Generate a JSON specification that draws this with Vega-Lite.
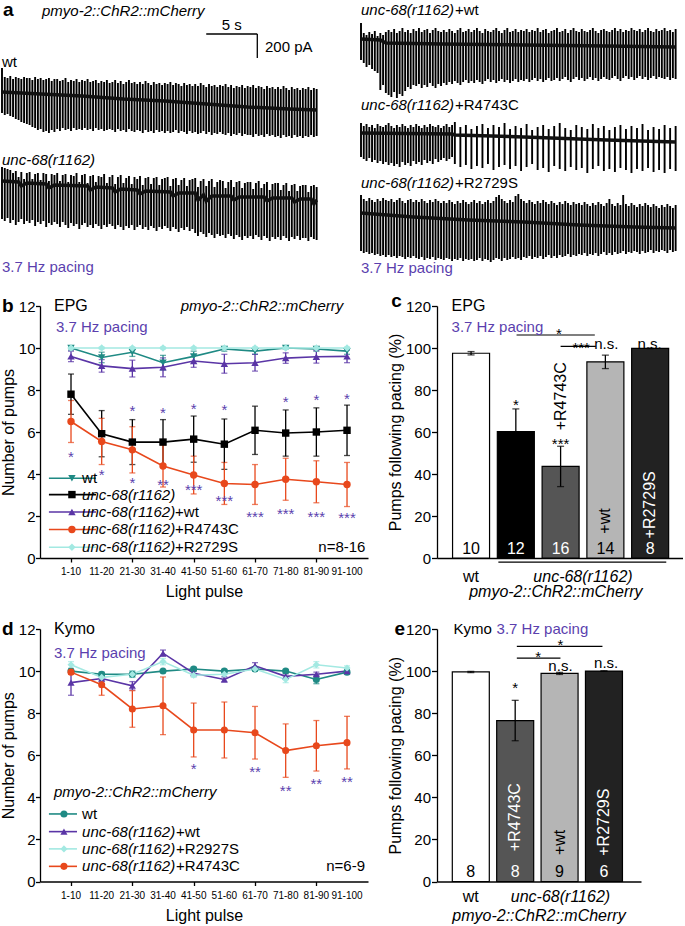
{
"$schema":"https://vega.github.io/schema/vega-lite/v6.json",
"padding":{"left":-5,"top":0,"right":0,"bottom":0},
"background":"white",
"config":{"font":"Liberation Sans","view":{"stroke":null},
"axis":{"grid":false,"domainColor":"#000","tickColor":"#000","labelColor":"#000","titleColor":"#000","domainWidth":1.3,"tickWidth":1.3,"labelFontSize":15,"titleFontSize":16,"titleFontWeight":"normal","labelFont":"Liberation Sans","titleFont":"Liberation Sans","labelOverlap":false,"labelBound":false,"labelFlush":false},
"text":{"color":"#000","baseline":"middle","fontSize":15},"rule":{"color":"#000"}},
"columns":2,"bounds":"flush","align":"each","spacing":{"row":71,"column":69},
"resolve":{"scale":{"color":"independent","shape":"independent","fill":"independent"}},
"datasets":{
"L":[{"n":[1,2,3,4,5,6,7,8,9,10,11,12,13,14,15,16,17,18,19,20,21,22,23,24,25,26,27,28,29,30,31,32,33,34,35,36,37,38,39,40,41,42,43,44,45,46,47,48,49,50,51,52,53,54,55,56,57,58,59,60,61,62,63,64,65,66,67,68,69,70,71,72,73,74,75,76,77,78,79,80,81,82,83,84,85,86,87,88,89,90,91,92,93,94,95,96,97,98,99,100,101,102,103,104,105,106,107,108,109,110,111,112,113,114,115],
"a":[217,208,207,209,206,208,207,206,208,207,207,205,208,206,207,205,206,207,204,206,206,204,205,207,203,205,204,206,203,205,204,206,203,204,205,202,204,203,205,202,203,205,202,204,201,203,205,202,203,201,203,201,204,202,200,203,201,202,200,202,201,203,200,202,201,199,202,200,201,199,201,199,202,200,198,201,199,200,198,200,199,201,198,200,197,199,198,200,197,199,198,200,197,199,198,196,199,197,198,196,198,196,199,197,195,198,196,197,195,197,196,198,195,197,196],
"b":[172,170,171,169,168,166,165,163,162,161,160,158,157,155,156,153,154,152,155,153,156,154,157,155,156,154,157,155,156,155,157,155,156,154,157,155,156,154,155,156,155,153,156,154,155,153,156,154,153,155,154,152,155,153,154,152,155,153,154,152,154,152,153,155,152,154,153,151,154,152,153,151,152,154,151,153,150,152,151,153,151,150,152,149,151,150,152,149,151,150,150,148,151,149,150,148,151,149,150,148,149,147,150,148,149,147,150,148,149,147,149,148,150,148,149],
"c":[118,117,116,115,112,114,108,113,106,112,113,106,111,112,105,112,111,104,111,110,112,104,110,111,103,110,109,112,103,110,111,102,109,110,103,109,108,111,102,108,110,101,108,110,102,107,109,101,108,106,109,100,107,108,101,107,108,100,106,107,108,99,106,107,100,105,107,99,105,106,107,98,104,106,99,104,106,98,103,105,104,97,103,105,98,103,104,97,102,103,103,96,102,104,97,101,103,95,101,102,102,95,100,102,94,100,101,94,99,100,100,93,99,100,98],
"d":[66,64,67,62,65,60,63,66,61,64,62,65,59,63,61,64,58,62,60,63,61,58,63,60,57,62,59,61,56,60,62,58,60,57,61,59,56,60,58,61,59,56,60,58,55,59,57,60,55,58,60,56,58,55,59,57,54,58,56,59,57,54,58,56,53,57,55,58,54,56,52,49,53,51,48,52,50,47,51,49,50,47,51,49,46,50,48,45,49,47,49,46,50,48,45,49,47,44,48,46,48,45,49,47,44,48,46,49,45,47,47,44,48,46,45]}],
"R":[{"n":[1,2,3,4,5,6,7,8,9,10,11,12,13,14,15,16,17,18,19,20,21,22,23,24,25,26,27,28,29,30,31,32,33,34,35,36,37,38,39,40,41,42,43,44,45,46,47,48,49,50,51,52,53,54,55,56,57,58,59,60,61,62,63,64,65,66,67,68,69,70,71,72,73,74,75,76,77,78,79,80,81,82,83,84,85,86,87,88,89,90,91,92,93,94,95,96,97,98,99,100,101,102,103,104,105,106,107,108,109,110,111,112,113,114,115],
"a":[262,252,250,253,251,254,249,252,250,253,255,253,256,252,254,257,253,255,252,256,254,257,253,255,256,252,255,257,254,253,255,253,256,254,252,255,257,253,254,256,253,255,257,254,252,256,254,253,255,257,254,252,255,257,253,254,256,253,255,254,256,253,255,254,257,253,255,256,252,254,255,257,253,254,256,252,255,257,254,253,256,254,253,255,257,254,252,255,256,254,253,255,257,254,256,253,255,254,257,255,254,256,253,255,257,254,253,256,254,255,257,254,255,253,256],
"b":[225,222,218,220,216,214,212,195,200,192,190,188,193,187,191,189,194,198,196,200,199,201,197,200,198,202,199,197,201,199,202,200,203,201,204,202,200,203,205,202,204,202,205,203,201,204,206,203,205,202,204,206,203,205,202,204,206,203,205,204,206,203,205,207,204,206,203,205,207,204,205,207,204,206,208,205,203,206,208,205,207,204,206,208,205,207,204,206,208,206,205,207,209,206,204,207,209,206,208,205,207,209,206,208,205,207,209,206,208,207,206,208,205,207,206],
"c":[90,86,84,87,85,83,86,84,87,85,84,86,83,85,87,84,82,85,86,83,85,83,86,84,82,85,83,86,84,82,84,82,85,83,81,84,82,85,83,81,83,85,82,84,81,83,85,82,84,88,90,86,84,82,85,83,89,91,86,84,82,85,83,81,84,82,85,83,81,84,82,80,83,81,84,82,80,83,81,82,80,83,81,79,82,80,83,81,79,82,86,81,79,82,80,90,81,79,82,80,78,81,79,82,80,78,81,79,77,80,78,81,79,77,80],
"d":[34,32,33,31,32,30,31,29,30,28,30,28,29,27,29,28,26,28,27,29,27,26,28,25,27,26,28,25,27,26,25,27,26,24,26,25,27,24,26,25,26,24,25,27,24,26,25,23,25,27,26,24,27,25,26,28,26,27,25,28,27,29,26,28,27,29,26,28,30,27,29,27,30,28,29,31,28,30,29,31,30,32,29,31,30,32,29,31,33,30,32,30,33,31,32,34,31,33,32,34,33,31,34,32,33,35,32,34,33,35,34,32,35,33,34]}],
"R4":[{"n":[1,2,3,4,5,6,7,8,9,10,11,12,13,14,15,16,17,18,19,20,21,22,23,24,25,26,27,28,29,30,31,32,33,34,35,37,39,41,43,45,47,49,51,53,55,57,59,61,63,65,67,69,71,73,75,77,79,81,83,85,87,89,91,93,95,97,99,101,103,105,107,109,111,113,115],
"a":[162,159,161,158,160,157,161,159,158,160,162,159,157,160,158,161,159,157,160,158,161,159,157,160,158,161,159,158,160,157,159,161,158,160,163,158,160,156,159,161,157,160,158,162,156,159,157,161,155,158,160,156,159,162,157,155,160,158,156,161,157,159,155,158,160,156,159,157,161,155,158,156,160,157,159],
"b":[128,126,124,127,123,125,122,124,121,123,120,122,119,121,118,123,120,122,119,124,121,123,120,125,122,124,121,126,123,125,127,124,126,128,121,118,120,116,119,117,121,115,118,120,116,119,114,118,121,115,117,113,119,116,114,118,115,117,112,116,119,114,116,113,117,115,112,116,114,117,113,115,112,116,114]}],
"BL":[{"tr":"wt","n":1,"v":193},{"tr":"wt","n":15,"v":191},{"tr":"wt","n":30,"v":189},{"tr":"wt","n":45,"v":186},{"tr":"wt","n":60,"v":184},{"tr":"wt","n":75,"v":181},{"tr":"wt","n":90,"v":178},{"tr":"wt","n":105,"v":176},{"tr":"wt","n":115,"v":175},
{"tr":"u","n":1,"v":104},{"tr":"u","n":7,"v":103},{"tr":"u","n":8,"v":99},{"tr":"u","n":10,"v":102},{"tr":"u","n":17,"v":101},{"tr":"u","n":18,"v":97},{"tr":"u","n":20,"v":100},{"tr":"u","n":32,"v":99},{"tr":"u","n":33,"v":95},{"tr":"u","n":35,"v":98},{"tr":"u","n":41,"v":97},{"tr":"u","n":42,"v":93},{"tr":"u","n":44,"v":96},{"tr":"u","n":50,"v":95},{"tr":"u","n":51,"v":91},{"tr":"u","n":53,"v":94},{"tr":"u","n":62,"v":93},{"tr":"u","n":63,"v":89},{"tr":"u","n":65,"v":92},{"tr":"u","n":71,"v":92},{"tr":"u","n":72,"v":85},{"tr":"u","n":74,"v":90},{"tr":"u","n":75,"v":84},{"tr":"u","n":77,"v":89},{"tr":"u","n":84,"v":89},{"tr":"u","n":85,"v":85},{"tr":"u","n":87,"v":88},{"tr":"u","n":96,"v":88},{"tr":"u","n":97,"v":84},{"tr":"u","n":99,"v":87},{"tr":"u","n":106,"v":87},{"tr":"u","n":107,"v":83},{"tr":"u","n":109,"v":86},{"tr":"u","n":113,"v":86},{"tr":"u","n":114,"v":81},{"tr":"u","n":115,"v":85}],
"BR":[{"tr":"w","n":1,"v":246},{"tr":"w","n":8,"v":245},{"tr":"w","n":10,"v":242},{"tr":"w","n":30,"v":241},{"tr":"w","n":60,"v":240},{"tr":"w","n":90,"v":239},{"tr":"w","n":115,"v":238},
{"tr":"s","n":1,"v":72},{"tr":"s","n":20,"v":68},{"tr":"s","n":40,"v":65},{"tr":"s","n":60,"v":63},{"tr":"s","n":80,"v":60},{"tr":"s","n":100,"v":58},{"tr":"s","n":115,"v":57},
{"tr":"r","n":1,"v":152},{"tr":"r","n":34,"v":151},{"tr":"r","n":35,"v":150},{"tr":"r","n":60,"v":148},{"tr":"r","n":90,"v":145},{"tr":"r","n":115,"v":143}],
"xl":[{"x":1,"t":"1-10"},{"x":2,"t":"11-20"},{"x":3,"t":"21-30"},{"x":4,"t":"31-40"},{"x":5,"t":"41-50"},{"x":6,"t":"51-60"},{"x":7,"t":"61-70"},{"x":8,"t":"71-80"},{"x":9,"t":"81-90"},{"x":10,"t":"91-100"}],
"bS":[{"g":"wt","x":1,"m":10,"e":0.1},{"g":"wt","x":2,"m":9.55,"e":0.25},{"g":"wt","x":3,"m":9.8,"e":0.2},{"g":"wt","x":4,"m":9.3,"e":0.35},{"g":"wt","x":5,"m":9.6,"e":0.25},{"g":"wt","x":6,"m":9.95,"e":0.1},{"g":"wt","x":7,"m":9.85,"e":0.15},{"g":"wt","x":8,"m":10,"e":0.05},{"g":"wt","x":9,"m":9.95,"e":0.1},{"g":"wt","x":10,"m":9.85,"e":0.15},
{"g":"unc","x":1,"m":7.8,"e":0.96},{"g":"unc","x":2,"m":5.92,"e":1.1},{"g":"unc","x":3,"m":5.52,"e":1.07},{"g":"unc","x":4,"m":5.52,"e":1.07},{"g":"unc","x":5,"m":5.66,"e":1.1},{"g":"unc","x":6,"m":5.42,"e":1.2},{"g":"unc","x":7,"m":6.08,"e":1.15},{"g":"unc","x":8,"m":5.95,"e":1.1},{"g":"unc","x":9,"m":6,"e":1.15},{"g":"unc","x":10,"m":6.08,"e":1.2},
{"g":"+wt","x":1,"m":9.6,"e":0.25},{"g":"+wt","x":2,"m":9.15,"e":0.3},{"g":"+wt","x":3,"m":9.02,"e":0.4},{"g":"+wt","x":4,"m":9.08,"e":0.45},{"g":"+wt","x":5,"m":9.38,"e":0.3},{"g":"+wt","x":6,"m":9.25,"e":0.45},{"g":"+wt","x":7,"m":9.3,"e":0.4},{"g":"+wt","x":8,"m":9.52,"e":0.25},{"g":"+wt","x":9,"m":9.58,"e":0.3},{"g":"+wt","x":10,"m":9.6,"e":0.3},
{"g":"R4743C","x":1,"m":6.5,"e":1},{"g":"R4743C","x":2,"m":5.55,"e":1.1},{"g":"R4743C","x":3,"m":5.15,"e":1.1},{"g":"R4743C","x":4,"m":4.38,"e":1},{"g":"R4743C","x":5,"m":3.95,"e":0.9},{"g":"R4743C","x":6,"m":3.55,"e":1},{"g":"R4743C","x":7,"m":3.5,"e":0.95},{"g":"R4743C","x":8,"m":3.75,"e":1},{"g":"R4743C","x":9,"m":3.63,"e":1},{"g":"R4743C","x":10,"m":3.5,"e":1.05},
{"g":"R2729S","x":1,"m":10,"e":0.05},{"g":"R2729S","x":2,"m":10,"e":0.05},{"g":"R2729S","x":3,"m":10,"e":0.05},{"g":"R2729S","x":4,"m":10,"e":0.05},{"g":"R2729S","x":5,"m":10,"e":0.05},{"g":"R2729S","x":6,"m":10,"e":0.05},{"g":"R2729S","x":7,"m":10,"e":0.05},{"g":"R2729S","x":8,"m":10,"e":0.05},{"g":"R2729S","x":9,"m":10,"e":0.05},{"g":"R2729S","x":10,"m":10,"e":0.05}],
"dS":[{"g":"wt","x":1,"m":10,"e":0.1},{"g":"wt","x":2,"m":9.85,"e":0.1},{"g":"wt","x":3,"m":9.85,"e":0.15},{"g":"wt","x":4,"m":10,"e":0.05},{"g":"wt","x":5,"m":10.1,"e":0.08},{"g":"wt","x":6,"m":10,"e":0.08},{"g":"wt","x":7,"m":10.1,"e":0.1},{"g":"wt","x":8,"m":10,"e":0.08},{"g":"wt","x":9,"m":9.6,"e":0.2},{"g":"wt","x":10,"m":9.95,"e":0.1},
{"g":"+wt","x":1,"m":9.45,"e":0.6},{"g":"+wt","x":2,"m":9.65,"e":0.15},{"g":"+wt","x":3,"m":9.3,"e":0.2},{"g":"+wt","x":4,"m":10.85,"e":0.15},{"g":"+wt","x":5,"m":9.9,"e":0.1},{"g":"+wt","x":6,"m":9.6,"e":0.12},{"g":"+wt","x":7,"m":10.25,"e":0.15},{"g":"+wt","x":8,"m":9.75,"e":0.12},{"g":"+wt","x":9,"m":9.85,"e":0.1},{"g":"+wt","x":10,"m":10,"e":0.05},
{"g":"R2927S","x":1,"m":10.3,"e":0.15},{"g":"R2927S","x":2,"m":9.7,"e":0.1},{"g":"R2927S","x":3,"m":9.85,"e":0.15},{"g":"R2927S","x":4,"m":10.45,"e":0.15},{"g":"R2927S","x":5,"m":9.8,"e":0.1},{"g":"R2927S","x":6,"m":9.85,"e":0.1},{"g":"R2927S","x":7,"m":10.1,"e":0.1},{"g":"R2927S","x":8,"m":9.6,"e":0.15},{"g":"R2927S","x":9,"m":10.3,"e":0.15},{"g":"R2927S","x":10,"m":10.15,"e":0.1},
{"g":"R4743C","x":1,"m":9.95,"e":0.1},{"g":"R4743C","x":2,"m":9.35,"e":0.5},{"g":"R4743C","x":3,"m":8.2,"e":0.87},{"g":"R4743C","x":4,"m":8.35,"e":1.37},{"g":"R4743C","x":5,"m":7.2,"e":1.28},{"g":"R4743C","x":6,"m":7.2,"e":1.33},{"g":"R4743C","x":7,"m":7.07,"e":1.25},{"g":"R4743C","x":8,"m":6.22,"e":1.27},{"g":"R4743C","x":9,"m":6.45,"e":1.2},{"g":"R4743C","x":10,"m":6.6,"e":1.25}],
"bLeg":[{"g":"wt","y":3.8,"it":"","r0":"wt","r1":""},{"g":"unc","y":3.02,"it":"unc-68(r1162)","r0":"","r1":""},{"g":"+wt","y":2.19,"it":"unc-68(r1162)","r0":"","r1":"+wt"},{"g":"R4743C","y":1.36,"it":"unc-68(r1162)","r0":"","r1":"+R4743C"},{"g":"R2729S","y":0.51,"it":"unc-68(r1162)","r0":"","r1":"+R2729S"}],
"dLeg":[{"g":"wt","y":3.21,"it":"","r0":"wt","r1":""},{"g":"+wt","y":2.37,"it":"unc-68(r1162)","r0":"","r1":"+wt"},{"g":"R2927S","y":1.55,"it":"unc-68(r1162)","r0":"","r1":"+R2927S"},{"g":"R4743C","y":0.72,"it":"unc-68(r1162)","r0":"","r1":"+R4743C"}],
"cBar":[{"g":"wt","x":1,"m":97.5,"e":0.8,"n":10},{"g":"unc","x":2,"m":60.2,"e":10.8,"n":12},{"g":"R4743C","x":3,"m":43.6,"e":9.6,"n":16},{"g":"+wt","x":4,"m":93.4,"e":3.2,"n":14},{"g":"R2729S","x":5,"m":99.8,"e":0.1,"n":8}],
"eBar":[{"g":"wt","x":1,"m":99.6,"e":0.3,"n":8},{"g":"R4743C","x":2,"m":76.5,"e":9.6,"n":8},{"g":"+wt","x":3,"m":98.9,"e":0.5,"n":9},{"g":"R2729S","x":4,"m":100,"e":0.1,"n":6}]
},
"concat":[
{"width":328,"height":234.5,"layer":[
{"data":{"name":"L"},"transform":[{"flatten":["n","a","b","c","d"]}],"mark":{"type":"rule","strokeWidth":1.9,"color":"#000"},"encoding":{"x":{"field":"n","type":"quantitative","scale":{"domain":[14.768,133.61],"nice":false,"zero":false},"axis":null},"y":{"field":"a","type":"quantitative","scale":{"domain":[50.5,285],"nice":false,"zero":false},"axis":null},"y2":{"field":"b"}}},
{"data":{"name":"L"},"transform":[{"flatten":["n","a","b","c","d"]}],"mark":{"type":"rule","strokeWidth":1.9,"color":"#000"},"encoding":{"x":{"field":"n","type":"quantitative","scale":{"domain":[14.768,133.61],"nice":false,"zero":false},"axis":null},"y":{"field":"c","type":"quantitative","scale":{"domain":[50.5,285],"nice":false,"zero":false},"axis":null},"y2":{"field":"d"}}},
{"data":{"name":"BL"},"mark":{"type":"line","strokeWidth":3.5,"color":"#111"},"encoding":{"x":{"field":"n","type":"quantitative","scale":{"domain":[14.768,133.61],"nice":false,"zero":false},"axis":null},"y":{"field":"v","type":"quantitative","scale":{"domain":[50.5,285],"nice":false,"zero":false},"axis":null},"detail":{"field":"tr"}}},
{"data":{"values":[{"x":75,"x2":93.5,"y":251,"y2":251},{"x":93.5,"x2":93.5,"y":251,"y2":227}]},"mark":{"type":"rule","strokeWidth":1.3},"encoding":{"x":{"field":"x","type":"quantitative","scale":{"domain":[14.768,133.61],"nice":false,"zero":false},"axis":null},"x2":{"field":"x2"},"y":{"field":"y","type":"quantitative","scale":{"domain":[50.5,285],"nice":false,"zero":false},"axis":null},"y2":{"field":"y2"}}},
{"data":{"values":[{"x":1.36,"y":275,"t":"a"}]},"mark":{"type":"text","align":"left","fontSize":19,"fontWeight":"bold"},"encoding":{"x":{"field":"x","type":"quantitative","scale":{"domain":[14.768,133.61],"nice":false,"zero":false},"axis":null},"y":{"field":"y","type":"quantitative","scale":{"domain":[50.5,285],"nice":false,"zero":false},"axis":null},"text":{"field":"t"}}},
{"data":{"values":[{"x":15.5,"y":274,"t":"pmyo-2::ChR2::mCherry"},{"x":1,"y":125,"t":"unc-68(r1162)"}]},"mark":{"type":"text","align":"left","fontSize":15,"fontStyle":"italic"},"encoding":{"x":{"field":"x","type":"quantitative","scale":{"domain":[14.768,133.61],"nice":false,"zero":false},"axis":null},"y":{"field":"y","type":"quantitative","scale":{"domain":[50.5,285],"nice":false,"zero":false},"axis":null},"text":{"field":"t"}}},
{"data":{"values":[{"x":1,"y":223,"t":"wt"},{"x":96.3,"y":238,"t":"200 pA"}]},"mark":{"type":"text","align":"left","fontSize":15},"encoding":{"x":{"field":"x","type":"quantitative","scale":{"domain":[14.768,133.61],"nice":false,"zero":false},"axis":null},"y":{"field":"y","type":"quantitative","scale":{"domain":[50.5,285],"nice":false,"zero":false},"axis":null},"text":{"field":"t"}}},
{"data":{"values":[{"x":84.2,"y":260,"t":"5 s"}]},"mark":{"type":"text","align":"center","fontSize":15},"encoding":{"x":{"field":"x","type":"quantitative","scale":{"domain":[14.768,133.61],"nice":false,"zero":false},"axis":null},"y":{"field":"y","type":"quantitative","scale":{"domain":[50.5,285],"nice":false,"zero":false},"axis":null},"text":{"field":"t"}}},
{"data":{"values":[{"x":1,"y":18,"t":"3.7 Hz pacing"}]},"mark":{"type":"text","align":"left","fontSize":15,"color":"#5b3fae"},"encoding":{"x":{"field":"x","type":"quantitative","scale":{"domain":[14.768,133.61],"nice":false,"zero":false},"axis":null},"y":{"field":"y","type":"quantitative","scale":{"domain":[50.5,285],"nice":false,"zero":false},"axis":null},"text":{"field":"t"}}}
]},
{"width":246,"height":234.5,"layer":[
{"data":{"name":"R"},"transform":[{"flatten":["n","a","b","c","d"]}],"mark":{"type":"rule","strokeWidth":1.9,"color":"#000"},"encoding":{"x":{"field":"n","type":"quantitative","scale":{"domain":[28.536,117.67],"nice":false,"zero":false},"axis":null},"y":{"field":"a","type":"quantitative","scale":{"domain":[50.5,285],"nice":false,"zero":false},"axis":null},"y2":{"field":"b"}}},
{"data":{"name":"R"},"transform":[{"flatten":["n","a","b","c","d"]}],"mark":{"type":"rule","strokeWidth":1.9,"color":"#000"},"encoding":{"x":{"field":"n","type":"quantitative","scale":{"domain":[28.536,117.67],"nice":false,"zero":false},"axis":null},"y":{"field":"c","type":"quantitative","scale":{"domain":[50.5,285],"nice":false,"zero":false},"axis":null},"y2":{"field":"d"}}},
{"data":{"name":"R4"},"transform":[{"flatten":["n","a","b"]}],"mark":{"type":"rule","strokeWidth":1.9,"color":"#000"},"encoding":{"x":{"field":"n","type":"quantitative","scale":{"domain":[28.536,117.67],"nice":false,"zero":false},"axis":null},"y":{"field":"a","type":"quantitative","scale":{"domain":[50.5,285],"nice":false,"zero":false},"axis":null},"y2":{"field":"b"}}},
{"data":{"name":"BR"},"mark":{"type":"line","strokeWidth":3.5,"color":"#111"},"encoding":{"x":{"field":"n","type":"quantitative","scale":{"domain":[28.536,117.67],"nice":false,"zero":false},"axis":null},"y":{"field":"v","type":"quantitative","scale":{"domain":[50.5,285],"nice":false,"zero":false},"axis":null},"detail":{"field":"tr"}}},
{"data":{"values":[{"x":1,"y":275,"t":"unc-68(r1162)"},{"x":1,"y":180,"t":"unc-68(r1162)"},{"x":1,"y":102,"t":"unc-68(r1162)"}]},"mark":{"type":"text","align":"left","fontSize":15,"fontStyle":"italic"},"encoding":{"x":{"field":"x","type":"quantitative","scale":{"domain":[28.536,117.67],"nice":false,"zero":false},"axis":null},"y":{"field":"y","type":"quantitative","scale":{"domain":[50.5,285],"nice":false,"zero":false},"axis":null},"text":{"field":"t"}}},
{"data":{"values":[{"x":1,"y":275,"t":"+wt"},{"x":1,"y":180,"t":"+R4743C"},{"x":1,"y":102,"t":"+R2729S"}]},"mark":{"type":"text","align":"left","fontSize":15,"dx":94},"encoding":{"x":{"field":"x","type":"quantitative","scale":{"domain":[28.536,117.67],"nice":false,"zero":false},"axis":null},"y":{"field":"y","type":"quantitative","scale":{"domain":[50.5,285],"nice":false,"zero":false},"axis":null},"text":{"field":"t"}}},
{"data":{"values":[{"x":1,"y":17,"t":"3.7 Hz pacing"}]},"mark":{"type":"text","align":"left","fontSize":15,"color":"#5b3fae"},"encoding":{"x":{"field":"x","type":"quantitative","scale":{"domain":[28.536,117.67],"nice":false,"zero":false},"axis":null},"y":{"field":"y","type":"quantitative","scale":{"domain":[50.5,285],"nice":false,"zero":false},"axis":null},"text":{"field":"t"}}}
]},
{"width":328,"height":252,"layer":[
{"data":{"name":"bS"},"mark":{"type":"errorbar","ticks":{"size":6},"thickness":1.3},"encoding":{"x":{"field":"x","type":"quantitative","title":"Light pulse","scale":{"domain":[-0.011,10.684],"nice":false,"zero":false}},"y":{"field":"m","type":"quantitative","title":"Number of pumps","scale":{"domain":[0,12],"nice":false}},"yError":{"field":"e"},"color":{"field":"g","type":"nominal","scale":{"domain":["wt","unc","+wt","R4743C","R2729S"],"range":["#1f8a84","#000000","#5a35a6","#e8481c","#a3e9e2"]},"legend":null}}},
{"data":{"name":"bS"},"mark":{"type":"line","strokeWidth":1.6},"encoding":{"x":{"field":"x","type":"quantitative","scale":{"domain":[-0.011,10.684],"nice":false,"zero":false},"axis":{"values":[1,2,3,4,5,6,7,8,9,10],"labels":false,"tickSize":4,"title":"Light pulse","titlePadding":21}},"y":{"field":"m","type":"quantitative","scale":{"domain":[0,12],"nice":false},"axis":{"values":[0,1,2,3,4,5,6,7,8,9,10,11,12],"labelExpr":"datum.value % 2 ? '' : datum.label","tickSize":{"condition":{"test":"datum.value % 2","value":2.5},"value":4.5},"labelPadding":0.5,"title":"Number of pumps","titlePadding":2}},"color":{"field":"g","type":"nominal","scale":{"domain":["wt","unc","+wt","R4743C","R2729S"],"range":["#1f8a84","#000000","#5a35a6","#e8481c","#a3e9e2"]},"legend":null}}},
{"data":{"name":"bS"},"mark":{"type":"point","filled":true,"size":55,"opacity":1},"encoding":{"x":{"field":"x","type":"quantitative","scale":{"domain":[-0.011,10.684],"nice":false,"zero":false}},"y":{"field":"m","type":"quantitative","scale":{"domain":[0,12],"nice":false}},"color":{"field":"g","type":"nominal","scale":{"domain":["wt","unc","+wt","R4743C","R2729S"],"range":["#1f8a84","#000000","#5a35a6","#e8481c","#a3e9e2"]},"legend":null},"shape":{"field":"g","type":"nominal","scale":{"domain":["wt","unc","+wt","R4743C","R2729S"],"range":["triangle-down","square","triangle-up","circle","diamond"]},"legend":null}}},
{"data":{"name":"xl"},"mark":{"type":"text","fontSize":10},"encoding":{"x":{"field":"x","type":"quantitative","scale":{"domain":[-0.011,10.684],"nice":false,"zero":false}},"y":{"datum":-0.68,"type":"quantitative","scale":{"domain":[0,12],"nice":false}},"text":{"field":"t"}}},
{"data":{"name":"bLeg"},"mark":{"type":"rule","strokeWidth":1.6},"encoding":{"x":{"datum":0.28,"type":"quantitative","scale":{"domain":[-0.011,10.684],"nice":false,"zero":false}},"x2":{"datum":1.815},"y":{"field":"y","type":"quantitative","scale":{"domain":[0,12],"nice":false}},"color":{"field":"g","type":"nominal","scale":{"domain":["wt","unc","+wt","R4743C","R2729S"],"range":["#1f8a84","#000000","#5a35a6","#e8481c","#a3e9e2"]},"legend":null}}},
{"data":{"name":"bLeg"},"mark":{"type":"point","filled":true,"size":55,"opacity":1},"encoding":{"x":{"datum":1.03,"type":"quantitative","scale":{"domain":[-0.011,10.684],"nice":false,"zero":false}},"y":{"field":"y","type":"quantitative","scale":{"domain":[0,12],"nice":false}},"color":{"field":"g","type":"nominal","scale":{"domain":["wt","unc","+wt","R4743C","R2729S"],"range":["#1f8a84","#000000","#5a35a6","#e8481c","#a3e9e2"]},"legend":null},"shape":{"field":"g","type":"nominal","scale":{"domain":["wt","unc","+wt","R4743C","R2729S"],"range":["triangle-down","square","triangle-up","circle","diamond"]},"legend":null}}},
{"data":{"name":"bLeg"},"mark":{"type":"text","align":"left","fontSize":15,"fontStyle":"italic"},"encoding":{"x":{"datum":1.36,"type":"quantitative","scale":{"domain":[-0.011,10.684],"nice":false,"zero":false}},"y":{"field":"y","type":"quantitative","scale":{"domain":[0,12],"nice":false}},"text":{"field":"it"}}},
{"data":{"name":"bLeg"},"mark":{"type":"text","align":"left","fontSize":15},"encoding":{"x":{"datum":1.36,"type":"quantitative","scale":{"domain":[-0.011,10.684],"nice":false,"zero":false}},"y":{"field":"y","type":"quantitative","scale":{"domain":[0,12],"nice":false}},"text":{"field":"r0"}}},
{"data":{"name":"bLeg"},"mark":{"type":"text","align":"left","fontSize":15,"dx":93},"encoding":{"x":{"datum":1.36,"type":"quantitative","scale":{"domain":[-0.011,10.684],"nice":false,"zero":false}},"y":{"field":"y","type":"quantitative","scale":{"domain":[0,12],"nice":false}},"text":{"field":"r1"}}},
{"data":{"values":[{"x":1,"y":5.0,"s":"*"},{"x":2,"y":4.1,"s":"*"},{"x":3,"y":7.15,"s":"*"},{"x":3,"y":3.75,"s":"*"},{"x":4,"y":7.07,"s":"*"},{"x":4,"y":3.63,"s":"**"},{"x":5,"y":7.26,"s":"*"},{"x":5,"y":3.4,"s":"***"},{"x":6,"y":7.23,"s":"*"},{"x":6,"y":2.9,"s":"***"},{"x":7,"y":2.14,"s":"***"},{"x":8,"y":7.58,"s":"*"},{"x":8,"y":2.27,"s":"***"},{"x":9,"y":7.68,"s":"*"},{"x":9,"y":2.14,"s":"***"},{"x":10,"y":7.74,"s":"*"},{"x":10,"y":2.06,"s":"***"}]},"mark":{"type":"text","fontSize":15,"color":"#5b3fae","dy":3.5},"encoding":{"x":{"field":"x","type":"quantitative","scale":{"domain":[-0.011,10.684],"nice":false,"zero":false}},"y":{"field":"y","type":"quantitative","scale":{"domain":[0,12],"nice":false}},"text":{"field":"s"}}},
{"data":{"values":[{"x":-1.25,"y":12.02,"t":"b"}]},"mark":{"type":"text","align":"left","fontSize":19,"fontWeight":"bold"},"encoding":{"x":{"field":"x","type":"quantitative","scale":{"domain":[-0.011,10.684],"nice":false,"zero":false}},"y":{"field":"y","type":"quantitative","scale":{"domain":[0,12],"nice":false}},"text":{"field":"t"}}},
{"data":{"values":[{"x":0.445,"y":12,"t":"EPG"}]},"mark":{"type":"text","align":"left","fontSize":16},"encoding":{"x":{"field":"x","type":"quantitative","scale":{"domain":[-0.011,10.684],"nice":false,"zero":false}},"y":{"field":"y","type":"quantitative","scale":{"domain":[0,12],"nice":false}},"text":{"field":"t"}}},
{"data":{"values":[{"x":0.51,"y":11.0,"t":"3.7 Hz pacing"}]},"mark":{"type":"text","align":"left","fontSize":15,"color":"#5b3fae"},"encoding":{"x":{"field":"x","type":"quantitative","scale":{"domain":[-0.011,10.684],"nice":false,"zero":false}},"y":{"field":"y","type":"quantitative","scale":{"domain":[0,12],"nice":false}},"text":{"field":"t"}}},
{"data":{"values":[{"x":4.576,"y":11.98,"t":"pmyo-2::ChR2::mCherry"}]},"mark":{"type":"text","align":"left","fontSize":15,"fontStyle":"italic"},"encoding":{"x":{"field":"x","type":"quantitative","scale":{"domain":[-0.011,10.684],"nice":false,"zero":false}},"y":{"field":"y","type":"quantitative","scale":{"domain":[0,12],"nice":false}},"text":{"field":"t"}}},
{"data":{"values":[{"x":10.6,"y":0.51,"t":"n=8-16"}]},"mark":{"type":"text","align":"right","fontSize":15},"encoding":{"x":{"field":"x","type":"quantitative","scale":{"domain":[-0.011,10.684],"nice":false,"zero":false}},"y":{"field":"y","type":"quantitative","scale":{"domain":[0,12],"nice":false}},"text":{"field":"t"}}}
]},
{"width":246,"height":252,"layer":[
{"data":{"name":"cBar"},"mark":{"type":"bar","orient":"vertical","width":37,"stroke":"#000","strokeWidth":1.2},"encoding":{"x":{"field":"x","type":"quantitative","scale":{"domain":[0.351,5.622],"nice":false,"zero":false},"axis":{"ticks":false,"labels":false,"title":null}},"y":{"field":"m","type":"quantitative","stack":null,"scale":{"domain":[0,120],"nice":false},"axis":{"values":[0,10,20,30,40,50,60,70,80,90,100,110,120],"labelExpr":"datum.value % 20 ? '' : datum.label","tickSize":{"condition":{"test":"datum.value % 20","value":3},"value":5.5},"labelPadding":1,"title":"Pumps following pacing (%)","titlePadding":2}},"fill":{"field":"g","type":"nominal","scale":{"domain":["wt","unc","R4743C","+wt","R2729S"],"range":["#ffffff","#000000","#555555","#b5b5b5","#222222"]},"legend":null}}},
{"data":{"name":"cBar"},"mark":{"type":"errorbar","ticks":{"size":7},"thickness":1.3,"color":"#000"},"encoding":{"x":{"field":"x","type":"quantitative","title":null,"scale":{"domain":[0.351,5.622],"nice":false,"zero":false}},"y":{"field":"m","type":"quantitative","title":"Pumps following pacing (%)","scale":{"domain":[0,120],"nice":false}},"yError":{"field":"e"}}},
{"data":{"name":"cBar"},"mark":{"type":"text","fontSize":16},"encoding":{"x":{"field":"x","type":"quantitative","scale":{"domain":[0.351,5.622],"nice":false,"zero":false}},"y":{"datum":4.5,"type":"quantitative","scale":{"domain":[0,120],"nice":false}},"text":{"field":"n"},"color":{"field":"g","type":"nominal","scale":{"domain":["wt","unc","R4743C","+wt","R2729S"],"range":["#000000","#ffffff","#ffffff","#000000","#ffffff"]},"legend":null}}},
{"data":{"values":[{"x":3,"y":77,"t":"+R4743C"},{"x":4,"y":17.6,"t":"+wt"}]},"mark":{"type":"text","angle":270,"fontSize":16},"encoding":{"x":{"field":"x","type":"quantitative","scale":{"domain":[0.351,5.622],"nice":false,"zero":false}},"y":{"field":"y","type":"quantitative","scale":{"domain":[0,120],"nice":false}},"text":{"field":"t"}}},
{"data":{"values":[{"x":5,"y":25.3,"t":"+R2729S"}]},"mark":{"type":"text","angle":270,"fontSize":16,"color":"#fff"},"encoding":{"x":{"field":"x","type":"quantitative","scale":{"domain":[0.351,5.622],"nice":false,"zero":false}},"y":{"field":"y","type":"quantitative","scale":{"domain":[0,120],"nice":false}},"text":{"field":"t"}}},
{"data":{"values":[{"x":2,"y":74.3,"s":"*"},{"x":3,"y":56,"s":"***"},{"x":2.965,"y":108.3,"s":"*"},{"x":3.46,"y":101.5,"s":"***"}]},"mark":{"type":"text","fontSize":15,"dy":3.5},"encoding":{"x":{"field":"x","type":"quantitative","scale":{"domain":[0.351,5.622],"nice":false,"zero":false}},"y":{"field":"y","type":"quantitative","scale":{"domain":[0,120],"nice":false}},"text":{"field":"s"}}},
{"data":{"values":[{"x":4.02,"y":101.9,"t":"n.s."},{"x":4.99,"y":101.9,"t":"n.s."}]},"mark":{"type":"text","fontSize":15},"encoding":{"x":{"field":"x","type":"quantitative","scale":{"domain":[0.351,5.622],"nice":false,"zero":false}},"y":{"field":"y","type":"quantitative","scale":{"domain":[0,120],"nice":false}},"text":{"field":"t"}}},
{"data":{"values":[{"x":2.016,"x2":3.764,"y":106.2},{"x":3.0,"x2":3.786,"y":100.8},{"x":1.61,"x2":5.36,"y":-2.0}]},"mark":{"type":"rule","strokeWidth":1.2},"encoding":{"x":{"field":"x","type":"quantitative","scale":{"domain":[0.351,5.622],"nice":false,"zero":false}},"x2":{"field":"x2"},"y":{"field":"y","type":"quantitative","scale":{"domain":[0,120],"nice":false}}}},
{"data":{"values":[{"x":-0.785,"y":122.6,"t":"c"}]},"mark":{"type":"text","align":"left","fontSize":19,"fontWeight":"bold"},"encoding":{"x":{"field":"x","type":"quantitative","scale":{"domain":[0.351,5.622],"nice":false,"zero":false}},"y":{"field":"y","type":"quantitative","scale":{"domain":[0,120],"nice":false}},"text":{"field":"t"}}},
{"data":{"values":[{"x":0.565,"y":119.9,"t":"EPG"}]},"mark":{"type":"text","align":"left","fontSize":16},"encoding":{"x":{"field":"x","type":"quantitative","scale":{"domain":[0.351,5.622],"nice":false,"zero":false}},"y":{"field":"y","type":"quantitative","scale":{"domain":[0,120],"nice":false}},"text":{"field":"t"}}},
{"data":{"values":[{"x":0.565,"y":110.2,"t":"3.7 Hz pacing"}]},"mark":{"type":"text","align":"left","fontSize":15,"color":"#5b3fae"},"encoding":{"x":{"field":"x","type":"quantitative","scale":{"domain":[0.351,5.622],"nice":false,"zero":false}},"y":{"field":"y","type":"quantitative","scale":{"domain":[0,120],"nice":false}},"text":{"field":"t"}}},
{"data":{"values":[{"x":1,"y":-9.1,"t":"wt"}]},"mark":{"type":"text","fontSize":16},"encoding":{"x":{"field":"x","type":"quantitative","scale":{"domain":[0.351,5.622],"nice":false,"zero":false}},"y":{"field":"y","type":"quantitative","scale":{"domain":[0,120],"nice":false}},"text":{"field":"t"}}},
{"data":{"values":[{"x":3.5,"y":-9.1,"t":"unc-68(r1162)"},{"x":2.894,"y":-16.4,"t":"pmyo-2::ChR2::mCherry"}]},"mark":{"type":"text","fontSize":16,"fontStyle":"italic"},"encoding":{"x":{"field":"x","type":"quantitative","scale":{"domain":[0.351,5.622],"nice":false,"zero":false}},"y":{"field":"y","type":"quantitative","scale":{"domain":[0,120],"nice":false}},"text":{"field":"t"}}}
]},
{"width":328,"height":252.5,"layer":[
{"data":{"name":"dS"},"mark":{"type":"errorbar","ticks":{"size":6},"thickness":1.3},"encoding":{"x":{"field":"x","type":"quantitative","title":"Light pulse","scale":{"domain":[-0.011,10.684],"nice":false,"zero":false}},"y":{"field":"m","type":"quantitative","title":"Number of pumps","scale":{"domain":[0,12],"nice":false}},"yError":{"field":"e"},"color":{"field":"g","type":"nominal","scale":{"domain":["wt","+wt","R2927S","R4743C"],"range":["#1f8a84","#5a35a6","#a3e9e2","#e8481c"]},"legend":null}}},
{"data":{"name":"dS"},"mark":{"type":"line","strokeWidth":1.6},"encoding":{"x":{"field":"x","type":"quantitative","scale":{"domain":[-0.011,10.684],"nice":false,"zero":false},"axis":{"values":[1,2,3,4,5,6,7,8,9,10],"labels":false,"tickSize":4,"title":"Light pulse","titlePadding":21}},"y":{"field":"m","type":"quantitative","scale":{"domain":[0,12],"nice":false},"axis":{"values":[0,1,2,3,4,5,6,7,8,9,10,11,12],"labelExpr":"datum.value % 2 ? '' : datum.label","tickSize":{"condition":{"test":"datum.value % 2","value":2.5},"value":4.5},"labelPadding":0.5,"title":"Number of pumps","titlePadding":2}},"color":{"field":"g","type":"nominal","scale":{"domain":["wt","+wt","R2927S","R4743C"],"range":["#1f8a84","#5a35a6","#a3e9e2","#e8481c"]},"legend":null}}},
{"data":{"name":"dS"},"mark":{"type":"point","filled":true,"size":50,"opacity":1},"encoding":{"x":{"field":"x","type":"quantitative","scale":{"domain":[-0.011,10.684],"nice":false,"zero":false}},"y":{"field":"m","type":"quantitative","scale":{"domain":[0,12],"nice":false}},"color":{"field":"g","type":"nominal","scale":{"domain":["wt","+wt","R2927S","R4743C"],"range":["#1f8a84","#5a35a6","#a3e9e2","#e8481c"]},"legend":null},"shape":{"field":"g","type":"nominal","scale":{"domain":["wt","+wt","R2927S","R4743C"],"range":["circle","triangle-up","diamond","circle"]},"legend":null}}},
{"data":{"name":"xl"},"mark":{"type":"text","fontSize":10},"encoding":{"x":{"field":"x","type":"quantitative","scale":{"domain":[-0.011,10.684],"nice":false,"zero":false}},"y":{"datum":-0.7,"type":"quantitative","scale":{"domain":[0,12],"nice":false}},"text":{"field":"t"}}},
{"data":{"name":"dLeg"},"mark":{"type":"rule","strokeWidth":1.6},"encoding":{"x":{"datum":0.28,"type":"quantitative","scale":{"domain":[-0.011,10.684],"nice":false,"zero":false}},"x2":{"datum":1.195},"y":{"field":"y","type":"quantitative","scale":{"domain":[0,12],"nice":false}},"color":{"field":"g","type":"nominal","scale":{"domain":["wt","+wt","R2927S","R4743C"],"range":["#1f8a84","#5a35a6","#a3e9e2","#e8481c"]},"legend":null}}},
{"data":{"name":"dLeg"},"mark":{"type":"point","filled":true,"size":50,"opacity":1},"encoding":{"x":{"datum":0.77,"type":"quantitative","scale":{"domain":[-0.011,10.684],"nice":false,"zero":false}},"y":{"field":"y","type":"quantitative","scale":{"domain":[0,12],"nice":false}},"color":{"field":"g","type":"nominal","scale":{"domain":["wt","+wt","R2927S","R4743C"],"range":["#1f8a84","#5a35a6","#a3e9e2","#e8481c"]},"legend":null},"shape":{"field":"g","type":"nominal","scale":{"domain":["wt","+wt","R2927S","R4743C"],"range":["circle","triangle-up","diamond","circle"]},"legend":null}}},
{"data":{"name":"dLeg"},"mark":{"type":"text","align":"left","fontSize":15,"fontStyle":"italic"},"encoding":{"x":{"datum":1.36,"type":"quantitative","scale":{"domain":[-0.011,10.684],"nice":false,"zero":false}},"y":{"field":"y","type":"quantitative","scale":{"domain":[0,12],"nice":false}},"text":{"field":"it"}}},
{"data":{"name":"dLeg"},"mark":{"type":"text","align":"left","fontSize":15},"encoding":{"x":{"datum":1.36,"type":"quantitative","scale":{"domain":[-0.011,10.684],"nice":false,"zero":false}},"y":{"field":"y","type":"quantitative","scale":{"domain":[0,12],"nice":false}},"text":{"field":"r0"}}},
{"data":{"name":"dLeg"},"mark":{"type":"text","align":"left","fontSize":15,"dx":94},"encoding":{"x":{"datum":1.36,"type":"quantitative","scale":{"domain":[-0.011,10.684],"nice":false,"zero":false}},"y":{"field":"y","type":"quantitative","scale":{"domain":[0,12],"nice":false}},"text":{"field":"r1"}}},
{"data":{"values":[{"x":5,"y":5.51,"s":"*"},{"x":7,"y":5.35,"s":"**"},{"x":8,"y":4.48,"s":"**"},{"x":9,"y":4.8,"s":"**"},{"x":10,"y":4.88,"s":"**"}]},"mark":{"type":"text","fontSize":15,"color":"#5b3fae","dy":3.5},"encoding":{"x":{"field":"x","type":"quantitative","scale":{"domain":[-0.011,10.684],"nice":false,"zero":false}},"y":{"field":"y","type":"quantitative","scale":{"domain":[0,12],"nice":false}},"text":{"field":"s"}}},
{"data":{"values":[{"x":-1.25,"y":12,"t":"d"}]},"mark":{"type":"text","align":"left","fontSize":19,"fontWeight":"bold"},"encoding":{"x":{"field":"x","type":"quantitative","scale":{"domain":[-0.011,10.684],"nice":false,"zero":false}},"y":{"field":"y","type":"quantitative","scale":{"domain":[0,12],"nice":false}},"text":{"field":"t"}}},
{"data":{"values":[{"x":0.445,"y":12,"t":"Kymo"}]},"mark":{"type":"text","align":"left","fontSize":16},"encoding":{"x":{"field":"x","type":"quantitative","scale":{"domain":[-0.011,10.684],"nice":false,"zero":false}},"y":{"field":"y","type":"quantitative","scale":{"domain":[0,12],"nice":false}},"text":{"field":"t"}}},
{"data":{"values":[{"x":0.445,"y":10.87,"t":"3.7 Hz pacing"}]},"mark":{"type":"text","align":"left","fontSize":15,"color":"#5b3fae"},"encoding":{"x":{"field":"x","type":"quantitative","scale":{"domain":[-0.011,10.684],"nice":false,"zero":false}},"y":{"field":"y","type":"quantitative","scale":{"domain":[0,12],"nice":false}},"text":{"field":"t"}}},
{"data":{"values":[{"x":0.445,"y":4.24,"t":"pmyo-2::ChR2::mCherry"}]},"mark":{"type":"text","align":"left","fontSize":15,"fontStyle":"italic"},"encoding":{"x":{"field":"x","type":"quantitative","scale":{"domain":[-0.011,10.684],"nice":false,"zero":false}},"y":{"field":"y","type":"quantitative","scale":{"domain":[0,12],"nice":false}},"text":{"field":"t"}}},
{"data":{"values":[{"x":10.586,"y":0.72,"t":"n=6-9"}]},"mark":{"type":"text","align":"right","fontSize":15},"encoding":{"x":{"field":"x","type":"quantitative","scale":{"domain":[-0.011,10.684],"nice":false,"zero":false}},"y":{"field":"y","type":"quantitative","scale":{"domain":[0,12],"nice":false}},"text":{"field":"t"}}}
]},
{"width":204,"height":252.5,"layer":[
{"data":{"name":"eBar"},"mark":{"type":"bar","orient":"vertical","width":37,"stroke":"#000","strokeWidth":1.2},"encoding":{"x":{"field":"x","type":"quantitative","scale":{"domain":[0.351,4.722],"nice":false,"zero":false},"axis":{"ticks":false,"labels":false,"title":null}},"y":{"field":"m","type":"quantitative","stack":null,"scale":{"domain":[0,120],"nice":false},"axis":{"values":[0,10,20,30,40,50,60,70,80,90,100,110,120],"labelExpr":"datum.value % 20 ? '' : datum.label","tickSize":{"condition":{"test":"datum.value % 20","value":3},"value":5.5},"labelPadding":1,"title":"Pumps following pacing (%)","titlePadding":2}},"fill":{"field":"g","type":"nominal","scale":{"domain":["wt","R4743C","+wt","R2729S"],"range":["#ffffff","#555555","#b5b5b5","#222222"]},"legend":null}}},
{"data":{"name":"eBar"},"mark":{"type":"errorbar","ticks":{"size":7},"thickness":1.3,"color":"#000"},"encoding":{"x":{"field":"x","type":"quantitative","title":null,"scale":{"domain":[0.351,4.722],"nice":false,"zero":false}},"y":{"field":"m","type":"quantitative","title":"Pumps following pacing (%)","scale":{"domain":[0,120],"nice":false}},"yError":{"field":"e"}}},
{"data":{"name":"eBar"},"mark":{"type":"text","fontSize":16},"encoding":{"x":{"field":"x","type":"quantitative","scale":{"domain":[0.351,4.722],"nice":false,"zero":false}},"y":{"datum":4.5,"type":"quantitative","scale":{"domain":[0,120],"nice":false}},"text":{"field":"n"},"color":{"field":"g","type":"nominal","scale":{"domain":["wt","R4743C","+wt","R2729S"],"range":["#000000","#ffffff","#000000","#ffffff"]},"legend":null}}},
{"data":{"values":[{"x":3,"y":18.6,"t":"+wt"}]},"mark":{"type":"text","angle":270,"fontSize":16},"encoding":{"x":{"field":"x","type":"quantitative","scale":{"domain":[0.351,4.722],"nice":false,"zero":false}},"y":{"field":"y","type":"quantitative","scale":{"domain":[0,120],"nice":false}},"text":{"field":"t"}}},
{"data":{"values":[{"x":2,"y":30.6,"t":"+R4743C"},{"x":4,"y":28.2,"t":"+R2729S"}]},"mark":{"type":"text","angle":270,"fontSize":16,"color":"#fff"},"encoding":{"x":{"field":"x","type":"quantitative","scale":{"domain":[0.351,4.722],"nice":false,"zero":false}},"y":{"field":"y","type":"quantitative","scale":{"domain":[0,120],"nice":false}},"text":{"field":"t"}}},
{"data":{"values":[{"x":3.02,"y":114.1,"s":"*"},{"x":2.52,"y":108.5,"s":"*"},{"x":2,"y":93.7,"s":"*"}]},"mark":{"type":"text","fontSize":15,"dy":3.5},"encoding":{"x":{"field":"x","type":"quantitative","scale":{"domain":[0.351,4.722],"nice":false,"zero":false}},"y":{"field":"y","type":"quantitative","scale":{"domain":[0,120],"nice":false}},"text":{"field":"s"}}},
{"data":{"values":[{"x":3.02,"y":102.5,"t":"n.s."},{"x":4.05,"y":103.8,"t":"n.s."}]},"mark":{"type":"text","fontSize":15},"encoding":{"x":{"field":"x","type":"quantitative","scale":{"domain":[0.351,4.722],"nice":false,"zero":false}},"y":{"field":"y","type":"quantitative","scale":{"domain":[0,120],"nice":false}},"text":{"field":"t"}}},
{"data":{"values":[{"x":2.037,"x2":3.966,"y":111.7},{"x":2.037,"x2":3.02,"y":106.2}]},"mark":{"type":"rule","strokeWidth":1.2},"encoding":{"x":{"field":"x","type":"quantitative","scale":{"domain":[0.351,4.722],"nice":false,"zero":false}},"x2":{"field":"x2"},"y":{"field":"y","type":"quantitative","scale":{"domain":[0,120],"nice":false}}}},
{"data":{"values":[{"x":-0.72,"y":120.1,"t":"e"}]},"mark":{"type":"text","align":"left","fontSize":19,"fontWeight":"bold"},"encoding":{"x":{"field":"x","type":"quantitative","scale":{"domain":[0.351,4.722],"nice":false,"zero":false}},"y":{"field":"y","type":"quantitative","scale":{"domain":[0,120],"nice":false}},"text":{"field":"t"}}},
{"data":{"values":[{"x":0.608,"y":120.1,"t":"Kymo"}]},"mark":{"type":"text","align":"left","fontSize":15},"encoding":{"x":{"field":"x","type":"quantitative","scale":{"domain":[0.351,4.722],"nice":false,"zero":false}},"y":{"field":"y","type":"quantitative","scale":{"domain":[0,120],"nice":false}},"text":{"field":"t"}}},
{"data":{"values":[{"x":1.58,"y":120.1,"t":"3.7 Hz pacing"}]},"mark":{"type":"text","align":"left","fontSize":15,"color":"#5b3fae"},"encoding":{"x":{"field":"x","type":"quantitative","scale":{"domain":[0.351,4.722],"nice":false,"zero":false}},"y":{"field":"y","type":"quantitative","scale":{"domain":[0,120],"nice":false}},"text":{"field":"t"}}},
{"data":{"values":[{"x":1,"y":-7.5,"t":"wt"}]},"mark":{"type":"text","fontSize":16},"encoding":{"x":{"field":"x","type":"quantitative","scale":{"domain":[0.351,4.722],"nice":false,"zero":false}},"y":{"field":"y","type":"quantitative","scale":{"domain":[0,120],"nice":false}},"text":{"field":"t"}}},
{"data":{"values":[{"x":3.02,"y":-7.5,"t":"unc-68(r1162)"},{"x":2.536,"y":-16.2,"t":"pmyo-2::ChR2::mCherry"}]},"mark":{"type":"text","fontSize":16,"fontStyle":"italic"},"encoding":{"x":{"field":"x","type":"quantitative","scale":{"domain":[0.351,4.722],"nice":false,"zero":false}},"y":{"field":"y","type":"quantitative","scale":{"domain":[0,120],"nice":false}},"text":{"field":"t"}}}
]}
]
}
